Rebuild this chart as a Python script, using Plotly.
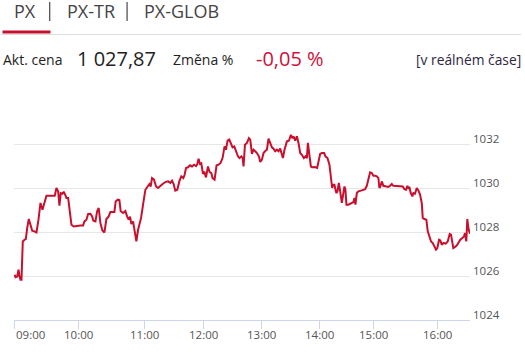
import plotly.graph_objects as go

# ---- data ----
# position along the trading-session axis (ordinal sample position) and index value
sample_pos = [0.5, 1.5, 3.2, 4.5, 5.5, 6.5, 7.5, 8.8, 10.5, 11.8, 13.2, 14.8, 16.5, 18.2, 20.5, 22.5,
              24.5, 26.5, 28.5, 30.5, 32.5, 34.8, 38.2, 40.8, 42.5, 44.2, 45.5, 46.8, 48.5, 49.8,
              51.2, 52.5, 54.2, 55.8, 57.5, 59.8, 63.2, 66.5, 69.2, 70.5, 72.5, 74.2, 76.5, 78.2,
              79.5, 81.5, 83.2, 84.8, 86.5, 88.5, 90.5, 92.5, 94.8, 96.5, 98.2, 100.5, 101.8, 103.8,
              105.5, 106.8, 109.2, 111.5, 113.2, 114.8, 116.2, 117.5, 119.2, 120.8, 122.5, 124.2,
              125.5, 127.2, 129.2, 131.5, 133.8, 135.5, 136.8, 138.2, 140.2, 142.2, 144.2, 146.5,
              148.8, 151.5, 154.2, 156.5, 158.2, 159.8, 161.5, 163.5, 165.5, 167.5, 169.5, 170.8,
              172.2, 174.2, 176.2, 178.2, 180.2, 182.2, 183.5, 184.8, 186.2, 187.5, 189.2, 190.5,
              192.2, 194.2, 195.8, 197.5, 198.8, 200.8, 202.8, 204.8, 206.8, 208.8, 210.8, 212.2,
              213.8, 215.5, 217.2, 218.8, 220.5, 222.2, 224.2, 225.8, 227.5, 228.8, 229.8, 231.2,
              233.2, 235.2, 236.5, 238.2, 239.8, 241.5, 243.2, 245.2, 246.5, 248.2, 249.8, 251.8,
              253.2, 254.8, 256.5, 258.2, 259.8, 261.5, 263.2, 264.8, 266.5, 267.8, 269.2, 270.8,
              273.2, 275.2, 277.2, 278.5, 279.8, 281.5, 283.2, 284.8, 286.5, 288.2, 290.2, 291.8,
              293.2, 294.2, 295.5, 297.2, 298.2, 299.5, 301.2, 303.5, 304.8, 306.5, 308.2, 310.5,
              311.8, 313.8, 315.8, 317.2, 318.5, 319.5, 320.8, 322.2, 322.8, 323.8, 325.2, 326.8,
              328.2, 329.5, 330.8, 331.8, 332.8, 334.8, 336.5, 338.2, 339.8, 340.8, 341.8, 343.2,
              344.8, 348.2, 351.5, 353.2, 354.8, 356.5, 358.2, 359.8, 361.5, 363.2, 364.8, 365.8,
              366.8, 368.2, 369.8, 372.2, 374.8, 376.5, 378.2, 379.8, 383.2, 386.5, 389.2, 390.8,
              392.5, 393.8, 394.8, 395.8, 397.2, 398.8, 399.8, 401.5, 403.2, 404.8, 406.5, 408.2,
              409.2, 410.8, 412.8, 414.2, 415.5, 417.5, 419.2, 420.8, 422.5, 423.8, 425.5, 426.8,
              428.2, 429.8, 432.2, 434.2, 436.2, 437.5, 438.8, 439.8, 441.5, 443.2, 444.8, 446.8,
              448.8, 450.5, 451.5, 452.8, 453.8, 455.2, 456.5]
index_value = [1026.06, 1025.95, 1025.98, 1026.29, 1026.00, 1025.83, 1025.83, 1027.57, 1027.65, 1027.68,
               1028.18, 1028.59, 1028.33, 1028.06, 1028.03, 1027.98, 1028.56, 1029.32, 1029.01, 1029.32,
               1029.65, 1029.65, 1029.65, 1029.65, 1030.00, 1029.85, 1029.20, 1029.77, 1029.74, 1029.83,
               1029.70, 1029.55, 1029.55, 1029.01, 1028.33, 1028.25, 1028.29, 1028.30, 1028.30, 1028.48,
               1028.56, 1028.82, 1028.83, 1028.71, 1028.51, 1028.48, 1028.94, 1029.09, 1028.41, 1028.07,
               1027.98, 1028.59, 1028.71, 1028.91, 1028.91, 1028.91, 1029.39, 1029.47, 1029.45, 1028.94,
               1028.86, 1028.95, 1028.71, 1028.56, 1028.70, 1028.36, 1028.48, 1028.03, 1027.57, 1028.10,
               1028.33, 1028.64, 1029.24, 1029.92, 1030.07, 1030.18, 1030.07, 1030.45, 1030.38, 1030.07,
               1030.00, 1030.07, 1030.18, 1030.27, 1030.30, 1030.23, 1030.33, 1030.18, 1029.88, 1029.92,
               1030.30, 1030.53, 1030.45, 1030.60, 1030.91, 1030.94, 1031.03, 1030.98, 1031.06, 1031.00,
               1031.09, 1031.33, 1031.09, 1031.12, 1030.64, 1030.75, 1030.48, 1030.98, 1030.73, 1030.68,
               1030.45, 1030.38, 1031.03, 1031.06, 1031.14, 1031.36, 1031.89, 1031.74, 1032.15, 1032.20,
               1031.97, 1031.85, 1031.89, 1031.64, 1031.44, 1031.36, 1031.44, 1031.38, 1030.98, 1031.97,
               1032.05, 1032.27, 1032.20, 1031.55, 1031.74, 1031.67, 1031.59, 1031.44, 1031.18, 1031.29,
               1031.59, 1031.69, 1031.74, 1032.24, 1032.05, 1031.85, 1031.79, 1031.67, 1031.74, 1031.67,
               1031.79, 1031.59, 1031.36, 1031.74, 1032.12, 1032.15, 1032.42, 1032.27, 1032.35, 1032.15,
               1032.35, 1032.05, 1031.59, 1031.51, 1031.36, 1031.44, 1031.36, 1032.05, 1031.44, 1030.98,
               1030.94, 1030.95, 1030.95, 1030.91, 1031.14, 1031.55, 1031.59, 1031.59, 1031.44, 1031.36,
               1031.06, 1030.60, 1030.00, 1030.15, 1030.15, 1029.85, 1029.77, 1029.85, 1030.23, 1029.77,
               1029.32, 1029.70, 1030.07, 1029.92, 1029.24, 1029.24, 1029.27, 1029.32, 1029.36, 1029.55,
               1029.24, 1029.77, 1029.85, 1029.89, 1029.95, 1030.10, 1030.45, 1030.71, 1030.68, 1030.56,
               1030.56, 1030.53, 1030.45, 1030.00, 1030.07, 1030.30, 1030.10, 1030.07, 1030.05, 1030.10,
               1030.18, 1030.10, 1030.10, 1030.10, 1030.07, 1029.95, 1029.92, 1030.10, 1030.00, 1030.05,
               1029.77, 1029.62, 1029.77, 1029.74, 1030.00, 1029.89, 1029.70, 1029.32, 1028.64, 1028.59,
               1028.56, 1028.03, 1027.88, 1027.57, 1027.50, 1027.32, 1027.20, 1027.27, 1027.65, 1027.62,
               1027.42, 1027.50, 1027.47, 1027.57, 1027.91, 1027.88, 1027.57, 1027.27, 1027.32, 1027.38,
               1027.50, 1027.65, 1027.73, 1027.80, 1027.95, 1027.57, 1028.59, 1028.10, 1027.92]

hour_labels = ["09:00", "10:00", "11:00", "12:00", "13:00", "14:00", "15:00", "16:00"]
hour_pos = [0, 64.5, 130.2, 189.8, 247.8, 305.5, 360.2, 423.8]
y_ticks = [1024, 1026, 1028, 1030, 1032]
y_tick_labels = ["1024", "1026", "1028", "1030", "1032"]

tabs = ["PX", "PX-TR", "PX-GLOB"]
price_label = "Akt. cena"
price_text = "1 027,87"
change_label = "Změna %"
change_text = "-0,05 %"
realtime_text = "[v reálném čase]"

# ---- layout geometry ----
W, H = 525, 356
ML, MR, MT, MB = 13.5, 55, 111, 36
PW = W - ML - MR
PH = H - MT - MB
FONT = "Open Sans, Segoe UI, sans-serif"
RED = "#c8102e"
GRID = "#e6e6e6"
AXIS = "#ccd6eb"


def px(x):
    return (x - ML) / PW


def py(y):
    return (H - MB - y) / PH


fig = go.Figure()
fig.add_trace(go.Scatter(
    x=sample_pos, y=index_value, mode="lines",
    line=dict(color=RED, width=2), hoverinfo="skip", showlegend=False,
))

ann = []
shapes = []

# tabs header
tab_x = [11, 65, 142]
for t, x in zip(tabs, tab_x):
    ann.append(dict(text=t, x=px(x), y=py(11), xref="paper", yref="paper",
                    xanchor="left", yanchor="middle", showarrow=False,
                    font=dict(family=FONT, size=18, color="#444")))
for sx in [49.3, 126.7]:
    shapes.append(dict(type="line", xref="paper", yref="paper",
                       x0=px(sx), x1=px(sx), y0=py(2), y1=py(21),
                       line=dict(color="#222", width=1)))
shapes.append(dict(type="line", xref="paper", yref="paper",
                   x0=px(0), x1=px(521), y0=py(34.5), y1=py(34.5),
                   line=dict(color="#dddddd", width=1)))
shapes.append(dict(type="rect", xref="paper", yref="paper",
                   x0=px(2), x1=px(50), y0=py(33.5), y1=py(30.5),
                   fillcolor=RED, line=dict(width=0)))

# price row
ann.append(dict(text=price_label, x=px(0), y=py(60), xref="paper", yref="paper",
                xanchor="left", yanchor="middle", showarrow=False,
                font=dict(family=FONT, size=14, color="#222")))
ann.append(dict(text=price_text, x=px(75), y=py(58.5), xref="paper", yref="paper",
                xanchor="left", yanchor="middle", showarrow=False,
                font=dict(family=FONT, size=20, color="#222")))
ann.append(dict(text=change_label, x=px(171), y=py(60), xref="paper", yref="paper",
                xanchor="left", yanchor="middle", showarrow=False,
                font=dict(family=FONT, size=14, color="#222")))
ann.append(dict(text=change_text, x=px(254), y=py(58.5), xref="paper", yref="paper",
                xanchor="left", yanchor="middle", showarrow=False,
                font=dict(family=FONT, size=20, color="#d0103a")))
ann.append(dict(text=realtime_text, x=px(523), y=py(60), xref="paper", yref="paper",
                xanchor="right", yanchor="middle", showarrow=False,
                font=dict(family=FONT, size=13.8, color="#2d2640")))

# y tick labels (right side, sitting above grid lines)
for v, lab in zip(y_ticks, y_tick_labels):
    ann.append(dict(text=lab, x=px(471), y=v, xref="paper", yref="y",
                    xanchor="left", yanchor="middle", yshift=6, showarrow=False,
                    font=dict(family=FONT, size=11.5, color="#555")))

# x tick labels
for i, (p, lab) in enumerate(zip(hour_pos, hour_labels)):
    ann.append(dict(text=lab, x=p, y=py(334), xref="x", yref="paper",
                    xanchor="left" if i == 0 else "center", yanchor="middle",
                    showarrow=False, font=dict(family=FONT, size=11.5, color="#555")))

fig.update_layout(
    width=W, height=H, margin=dict(l=ML, r=MR, t=MT, b=MB, pad=0),
    paper_bgcolor="white", plot_bgcolor="white",
    annotations=ann, shapes=shapes, showlegend=False,
    xaxis=dict(range=[0, 456.5], tickvals=hour_pos, ticktext=hour_labels,
               showticklabels=False, showgrid=False, zeroline=False,
               showline=True, linecolor=AXIS, linewidth=1,
               ticks="outside", ticklen=8, tickcolor=AXIS, tickwidth=1,
               fixedrange=True),
    yaxis=dict(range=[1024, 1033.5], tickvals=y_ticks, showticklabels=False,
               showgrid=True, gridcolor=GRID, gridwidth=1, zeroline=False,
               showline=False, ticks="", fixedrange=True),
)

fig.write_html("out.html", config={"displayModeBar": False},
               post_script="document.body.style.margin='0';document.body.style.overflow='hidden';")
